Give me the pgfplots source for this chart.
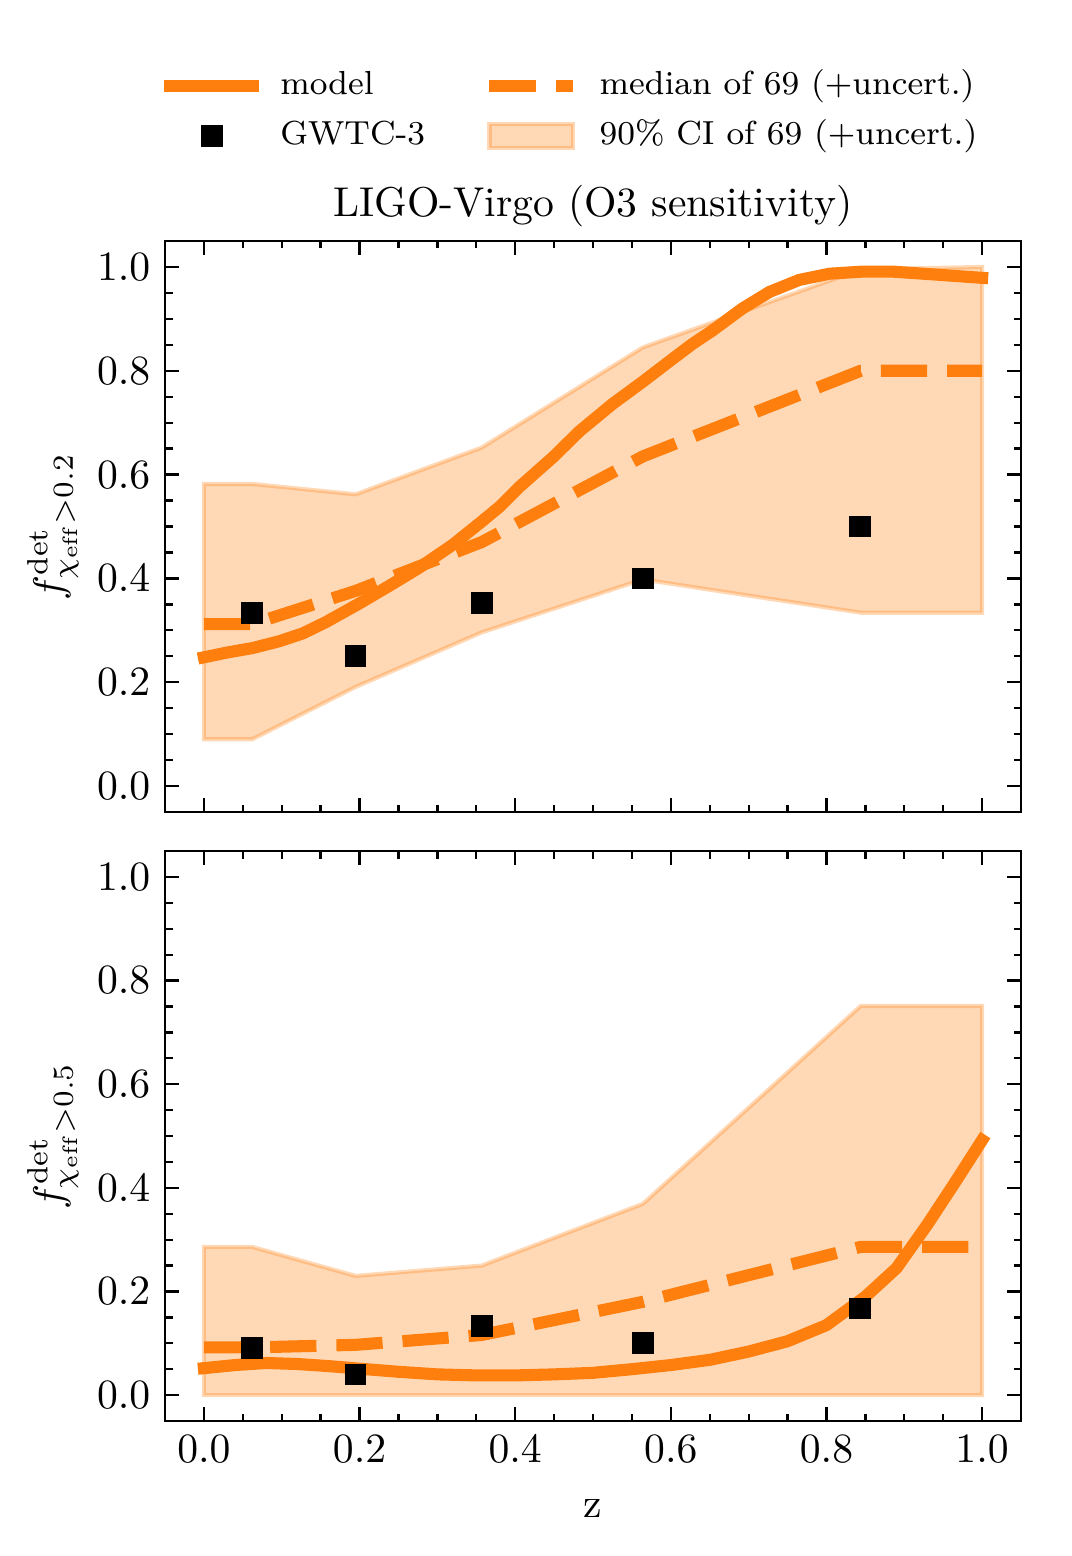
\documentclass[border=0pt]{standalone}
\usepackage{pgfplots}
\pgfplotsset{compat=1.18}
\definecolor{tab}{HTML}{FF7F0E}

\pgfplotsset{
  myaxis/.style={
    scale only axis, width=205.44pt,
    xmin=-0.05, xmax=1.05, ymin=-0.05, ymax=1.05,
    xtick={0,0.2,0.4,0.6,0.8,1.0}, ytick={0,0.2,0.4,0.6,0.8,1.0},
    minor tick num=3,
    tick align=inside, xtick pos=both, ytick pos=both,
    major tick length=3.3pt, minor tick length=1.8pt,
    every tick/.style={black, line width=0.55pt},
    axis line style={line width=0.7pt},
    tick label style={/pgf/number format/.cd, fixed, fixed zerofill, precision=1, /tikz/.cd},
    ylabel shift=-2.4pt,
    legend image code/.code={\draw[mark repeat=2,mark phase=2,##1] plot coordinates {(0pt,0pt) (10pt,0pt) (20pt,0pt)};},
  },
  areaimg/.style={legend image code/.code={\draw[##1] (0pt,-2.9pt) rectangle (20pt,2.9pt);}},
  band/.style={fill=tab, fill opacity=0.3, draw=tab, draw opacity=0.3, line width=1pt},
  med/.style={tab, line width=2.9pt, dash pattern=on 11.1pt off 4.8pt, line cap=butt, line join=round},
  mod/.style={tab, line width=2.9pt, line cap=rect, line join=round},
  pts/.style={only marks, mark=square*, mark size=2.4pt, black},
}

\begin{document}
\begin{tikzpicture}
\path[use as bounding box] (0,0) rectangle (257.04pt,-373.44pt);

\begin{axis}[myaxis,
  at={(39.6pt,-194.88pt)}, anchor=south west, height=137.04pt,
  xticklabels={},
  ylabel={$f^{\mathrm{det}}_{\chi_{\mathrm{eff}}>0.2}$},
  title={LIGO-Virgo (O3 sensitivity)},
  title style={at={(axis description cs:0.5,1)}, anchor=base, yshift=-0.2pt, inner sep=0pt},
  legend columns=2, legend cell align=left,
  legend style={at={(axis description cs:-0.0011,1.3015)}, anchor=north west,
    draw=none, fill=none, inner sep=0pt, outer sep=0pt,
    font=\fontsize{8}{10}\selectfont,
    nodes={inner sep=0pt, text height=6.2pt, text depth=2.1pt},
    row sep=3.7pt, column sep=5pt,
    /tikz/every even column/.append style={column sep=14pt}},
]
\addplot[band, forget plot] coordinates {
 (0,0.582) (0.062,0.582) (0.195,0.562) (0.357,0.652) (0.564,0.845) (0.844,0.995) (1.0,1.0)
 (1.0,0.334) (0.844,0.334) (0.564,0.398) (0.357,0.296) (0.195,0.191) (0.062,0.090) (0,0.090)
} -- cycle;
\addplot[med, forget plot] coordinates {
 (0,0.312) (0.062,0.312) (0.195,0.376) (0.357,0.470) (0.564,0.635) (0.844,0.800) (1.0,0.800)
};
\addplot[mod, forget plot] coordinates {
 (0.000,0.248) (0.029,0.257) (0.063,0.266) (0.097,0.279) (0.127,0.294) (0.157,0.316)
 (0.200,0.352) (0.243,0.390) (0.277,0.421) (0.320,0.465) (0.354,0.506) (0.380,0.538)
 (0.406,0.577) (0.449,0.634) (0.483,0.684) (0.525,0.736) (0.564,0.779) (0.598,0.818)
 (0.628,0.852) (0.654,0.878) (0.692,0.920) (0.727,0.952) (0.765,0.975) (0.804,0.987)
 (0.846,0.991) (0.885,0.991) (0.924,0.987) (0.962,0.983) (1.000,0.979)
};
\addplot[pts, forget plot] coordinates {
 (0.062,0.333) (0.195,0.250) (0.357,0.353) (0.564,0.400) (0.843,0.500)
};
\addlegendimage{mod}
\addlegendentry{model}
\addlegendimage{med}
\addlegendentry{median of 69 (+uncert.)}
\addlegendimage{pts}
\addlegendentry{GWTC-3}
\addlegendimage{band, areaimg}
\addlegendentry{90\% CI of 69 (+uncert.)}
\end{axis}

\begin{axis}[myaxis,
  at={(39.6pt,-341.04pt)}, anchor=south west, height=136.8pt,
  xlabel={z}, xlabel shift=2pt,
  ylabel={$f^{\mathrm{det}}_{\chi_{\mathrm{eff}}>0.5}$},
]
\addplot[band] coordinates {
 (0,0.286) (0.062,0.286) (0.195,0.230) (0.357,0.250) (0.564,0.369) (0.844,0.751) (1.0,0.751)
 (1.0,0.0) (0,0.0)
} -- cycle;
\addplot[med] coordinates {
 (0,0.092) (0.062,0.092) (0.195,0.097) (0.357,0.116) (0.564,0.180) (0.844,0.286) (1.0,0.286)
};
\addplot[mod] coordinates {
 (0.00,0.052) (0.04,0.058) (0.08,0.062) (0.12,0.060) (0.16,0.056) (0.20,0.051)
 (0.25,0.045) (0.30,0.040) (0.35,0.038) (0.40,0.038) (0.45,0.040) (0.50,0.043)
 (0.55,0.050) (0.60,0.058) (0.65,0.068) (0.70,0.084) (0.75,0.104) (0.80,0.135)
 (0.85,0.190) (0.89,0.245) (0.93,0.330) (0.965,0.410) (1.00,0.492)
};
\addplot[pts] coordinates {
 (0.062,0.091) (0.195,0.040) (0.357,0.133) (0.564,0.100) (0.843,0.167)
};
\end{axis}
\end{tikzpicture}
\end{document}
